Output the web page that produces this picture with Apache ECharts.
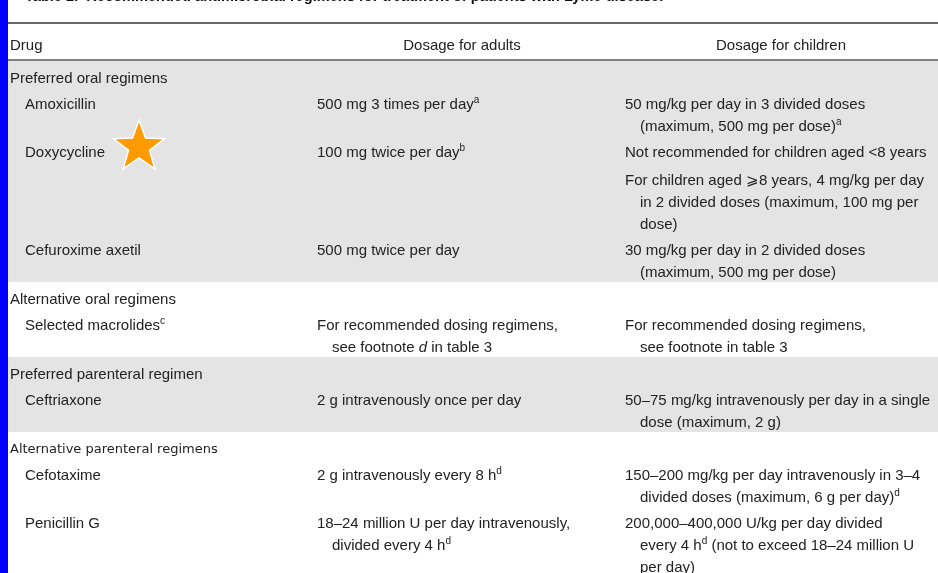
<!DOCTYPE html>
<html><head><meta charset="utf-8">
<script src="https://cdn.jsdelivr.net/npm/echarts@6/dist/echarts.min.js"></script>
<style>html,body{margin:0;padding:0;background:#fff}#c{width:938px;height:573px}</style>
</head><body><div id="c"></div>
<script>
// ---------- data ----------
const tableTitle = 'Table 2.  Recommended antimicrobial regimens for treatment of patients with Lyme disease.';
const columnHeaders = ['Drug', 'Dosage for adults', 'Dosage for children'];
const sections = ['Preferred oral regimens', 'Alternative oral regimens', 'Preferred parenteral regimen', 'Alternative parenteral regimens'];
const shadedSections = [true, false, true, false];
const drugs = ['Amoxicillin', 'Doxycycline', 'Cefuroxime axetil', 'Selected macrolides{sup|c}', 'Ceftriaxone', 'Cefotaxime', 'Penicillin G'];
const drugSection = [0, 0, 0, 1, 2, 3, 3];
const adultDosage = [
  ['500 mg 3 times per day{sup|a}'],
  ['100 mg twice per day{sup|b}'],
  ['500 mg twice per day'],
  ['For recommended dosing regimens,', 'see footnote {it|d} in table 3'],
  ['2 g intravenously once per day'],
  ['2 g intravenously every 8 h{sup|d}'],
  ['18–24 million U per day intravenously,', 'divided every 4 h{sup|d}']
];
const childDosage = [
  [['50 mg/kg per day in 3 divided doses', '(maximum, 500 mg per dose){sup|a}']],
  [['Not recommended for children aged <8 years'], ['For children aged ⩾8 years, 4 mg/kg per day', 'in 2 divided doses (maximum, 100 mg per', 'dose)']],
  [['30 mg/kg per day in 2 divided doses', '(maximum, 500 mg per dose)']],
  [['For recommended dosing regimens,', 'see footnote in table 3']],
  [['50–75 mg/kg intravenously per day in a single', 'dose (maximum, 2 g)']],
  [['150–200 mg/kg per day intravenously in 3–4', 'divided doses (maximum, 6 g per day){sup|d}']],
  [['200,000–400,000 U/kg per day divided', 'every 4 h{sup|d} (not to exceed 18–24 million U', 'per day)']]
];
const highlightedDrug = 'Doxycycline';

// ---------- layout (style constants) ----------
const W = 938, H = 573;
const FONT = '"Liberation Sans", Arial, Helvetica, sans-serif';
const TEXT_COLOR = '#222';
const COL_X = [10, 317, 625];
const DRUG_X = 25, INDENT = 15;
const HEADER_Y = 44, FIRST_Y = 77, LINE = 22, ROW = 26, PARA = 28, SECTION_GAP = 27;
const TEXT_DY = 1.5;

const texts = [];   // {x, y, text, kind}
const bands = [];   // {top, bottom, shaded}
const marks = [];   // {x, y}

texts.push({x: 25, y: -4.5, text: tableTitle, kind: 'title'});
texts.push({x: COL_X[0], y: HEADER_Y, text: columnHeaders[0], kind: 'head', align: 'left'});
texts.push({x: 462, y: HEADER_Y, text: columnHeaders[1], kind: 'head', align: 'center'});
texts.push({x: 781, y: HEADER_Y, text: columnHeaders[2], kind: 'head', align: 'center'});

let y = FIRST_Y;
sections.forEach((s, si) => {
  const top = y - 16;
  texts.push({x: COL_X[0], y: y, text: s, kind: si === 3 ? 'alt' : 'body'});
  let last = y;
  drugs.forEach((d, di) => {
    if (drugSection[di] !== si) return;
    const ry = last + ROW;
    let rowLast = ry;
    texts.push({x: DRUG_X, y: ry, text: d, kind: 'body'});
    if (d === highlightedDrug) marks.push({x: 139, y: ry - 4});
    adultDosage[di].forEach((ln, k) => {
      const ly = ry + k * LINE;
      texts.push({x: COL_X[1] + (k ? INDENT : 0), y: ly, text: ln, kind: 'body'});
      rowLast = Math.max(rowLast, ly);
    });
    let py = ry;
    childDosage[di].forEach((para) => {
      para.forEach((ln, k) => {
        const ly = py + k * LINE;
        texts.push({x: COL_X[2] + (k ? INDENT : 0), y: ly, text: ln, kind: 'body'});
        rowLast = Math.max(rowLast, ly);
      });
      py = rowLast + PARA;
    });
    last = rowLast;
  });
  bands.push({top: top, bottom: last + 11.5, shaded: shadedSections[si]});
  y = last + SECTION_GAP;
});

const rich = {
  sup: {fontSize: 10, fontFamily: FONT, fill: TEXT_COLOR, verticalAlign: 'top', lineHeight: 18},
  it: {fontSize: 15, fontFamily: FONT, fontStyle: 'italic', fill: TEXT_COLOR, lineHeight: 18}
};

const chart = echarts.init(document.getElementById('c'), null, {renderer: 'canvas'});
chart.setOption({
  animation: false,
  backgroundColor: '#fff',
  grid: {left: 0, right: 0, top: 0, bottom: 0},
  xAxis: {type: 'value', min: 0, max: W, show: false},
  yAxis: {type: 'value', min: 0, max: H, inverse: true, show: false},
  series: [
    {
      type: 'custom', z: 1, silent: true,
      data: bands.map((b, i) => [i]),
      renderItem: function (params, api) {
        const b = bands[params.dataIndex];
        const p0 = api.coord([8, b.top]), p1 = api.coord([W, b.bottom]);
        return {type: 'rect', shape: {x: p0[0], y: p0[1], width: p1[0] - p0[0], height: p1[1] - p0[1]},
          style: {fill: b.shaded ? '#e4e4e4' : '#ffffff'}};
      }
    },
    {
      type: 'custom', z: 2, silent: true,
      data: [[23, 1.6], [60, 1.4]],
      renderItem: function (params, api) {
        const yy = api.value(0);
        const p0 = api.coord([8, yy]), p1 = api.coord([W, yy]);
        return {type: 'line', shape: {x1: p0[0], y1: p0[1], x2: p1[0], y2: p1[1]},
          style: {stroke: ['#333', '#555'][params.dataIndex], lineWidth: api.value(1)}};
      }
    },
    {
      type: 'custom', z: 3, silent: true,
      data: texts.map((t, i) => [i]),
      renderItem: function (params, api) {
        const t = texts[params.dataIndex];
        const p = api.coord([t.x, t.y + TEXT_DY]);
        let font = {fontSize: 15, fontFamily: FONT, fontWeight: 'normal'};
        if (t.kind === 'title') font = {fontSize: 14.6, fontFamily: FONT, fontWeight: 'bold'};
        if (t.kind === 'alt') font = {fontSize: 13, fontFamily: '"DejaVu Sans", sans-serif', fontWeight: 'normal'};
        return {type: 'text', x: p[0], y: p[1], style: Object.assign({
          text: t.text, fill: t.kind === 'title' ? '#111' : TEXT_COLOR,
          align: t.align || 'left', verticalAlign: 'middle', lineHeight: 18, rich: rich
        }, font)};
      }
    },
    {
      type: 'custom', z: 4, silent: true,
      data: marks.map((m, i) => [i]),
      renderItem: function (params, api) {
        const m = marks[params.dataIndex];
        const c = api.coord([m.x, m.y]);
        const R = 27, r = 11, pts = [];
        for (let k = 0; k < 10; k++) {
          const a = -Math.PI / 2 + k * Math.PI / 5;
          const rad = k % 2 ? r : R;
          pts.push([c[0] + rad * Math.cos(a), c[1] + rad * Math.sin(a)]);
        }
        return {type: 'polygon', shape: {points: pts}, style: {fill: '#ff9a00', stroke: '#ffffff', lineWidth: 1.5}};
      }
    }
  ],
  graphic: [
    {type: 'rect', left: 0, top: 0, shape: {width: 8, height: H}, style: {fill: '#0000ff'}, z: 10}
  ]
});
</script></body></html>
